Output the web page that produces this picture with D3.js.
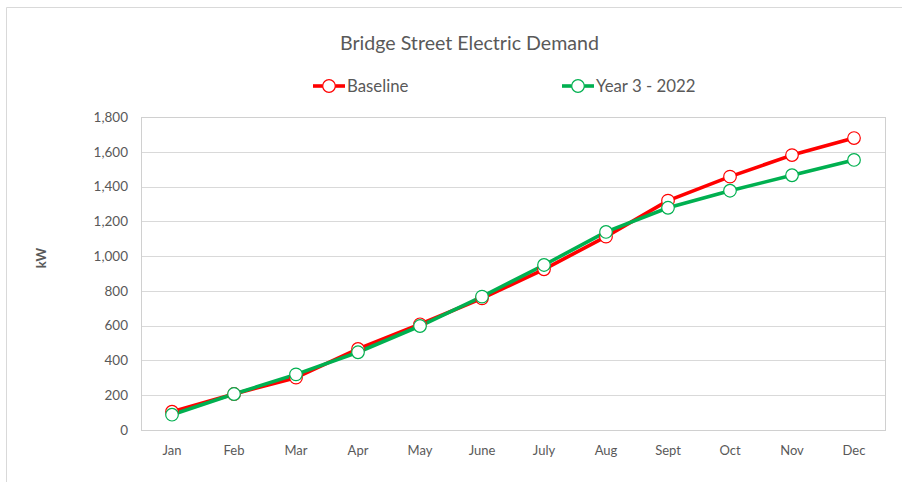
<!DOCTYPE html>
<html><head><meta charset="utf-8">
<script src="https://cdn.jsdelivr.net/npm/d3@7"></script>
<style>body{margin:0;background:#fff;}svg{display:block;font-family:Lato,"Open Sans",sans-serif;}</style>
</head><body>
<svg id="c" width="902" height="482"></svg>
<script>
const months = ["Jan","Feb","Mar","Apr","May","June","July","Aug","Sept","Oct","Nov","Dec"];
const baseline = [105, 207, 301, 466, 608, 757, 924, 1112, 1319, 1457, 1581, 1679];
const year3 = [88, 207, 320, 447, 598, 767, 949, 1139, 1278, 1376, 1465, 1553];
const yTicks = [0,200,400,600,800,1000,1200,1400,1600,1800];
const seriesNames = ["Baseline","Year 3 - 2022"];
const seriesColors = ["#FF0000","#00B050"];

const svg = d3.select("#c");
const L=141, R=885, T=117, B=430;
const x = d3.scaleBand().domain(months).range([L,R]);
const y = d3.scaleLinear().domain([0,1800]).range([B,T]);

// outer chart border
svg.append("path").attr("d","M6.5,482 V7.5 H902").attr("fill","none").attr("stroke","#D9D9D9").attr("stroke-width",1);

// gridlines
svg.append("g").selectAll("line").data(yTicks).join("line")
  .attr("x1",L).attr("x2",R).attr("y1",d=>Math.round(y(d))+0.5).attr("y2",d=>Math.round(y(d))+0.5)
  .attr("stroke","#D9D9D9").attr("stroke-width",1);
// plot border
svg.append("rect").attr("x",L+0.5).attr("y",T+0.5).attr("width",R-L).attr("height",B-T)
  .attr("fill","none").attr("stroke","#D0D0D0").attr("stroke-width",1);

// y axis labels
const ya = d3.axisLeft(y).tickValues(yTicks).tickSize(0).tickPadding(13).tickFormat(d3.format(","));
const gy = svg.append("g").attr("transform",`translate(${L},0)`).call(ya);
gy.select(".domain").remove();
gy.selectAll("text").attr("fill","#595959").style("font-size","13.5px").style("font-family","Lato,'Open Sans',sans-serif");

// x axis labels
const xa = d3.axisBottom(x).tickSize(0).tickPadding(16);
const gx = svg.append("g").attr("transform",`translate(0,${B})`).call(xa);
gx.select(".domain").remove();
gx.selectAll("text").attr("fill","#595959").style("font-size","13px").style("font-family","Lato,'Open Sans',sans-serif");

// axis title
svg.append("text").attr("transform","translate(46,258) rotate(-90)").attr("text-anchor","middle")
  .attr("fill","#595959").attr("font-weight","bold").style("font-size","13px").text("kW");

// title
svg.append("text").attr("x",469.5).attr("y",50).attr("text-anchor","middle").attr("fill","#595959")
  .style("font-size","19.6px").text("Bridge Street Electric Demand");

// series
const data = [baseline, year3];
const line = d3.line().x((d,i)=>x(months[i])+x.bandwidth()/2).y(d=>y(d));
data.forEach((vals,k)=>{
  svg.append("path").datum(vals).attr("d",line).attr("fill","none")
    .attr("stroke",seriesColors[k]).attr("stroke-width",3.6).attr("stroke-linejoin","round");
});
data.forEach((vals,k)=>{
  svg.append("g").selectAll("circle").data(vals).join("circle")
    .attr("cx",(d,i)=>x(months[i])+x.bandwidth()/2).attr("cy",d=>y(d)).attr("r",6.3)
    .attr("fill","#fff").attr("stroke",seriesColors[k]).attr("stroke-width",1.2);
});

// legend
const legX = [313, 562];
seriesNames.forEach((n,k)=>{
  const g = svg.append("g").attr("transform",`translate(${legX[k]},86)`);
  g.append("line").attr("x1",0).attr("x2",32).attr("y1",0).attr("y2",0).attr("stroke",seriesColors[k]).attr("stroke-width",3.6);
  g.append("circle").attr("cx",16).attr("cy",0).attr("r",6.3).attr("fill","#fff").attr("stroke",seriesColors[k]).attr("stroke-width",1.2);
  g.append("text").attr("x",34).attr("y",5.8).attr("fill","#595959").style("font-size","16.8px").text(n);
});
</script>
</body></html>
